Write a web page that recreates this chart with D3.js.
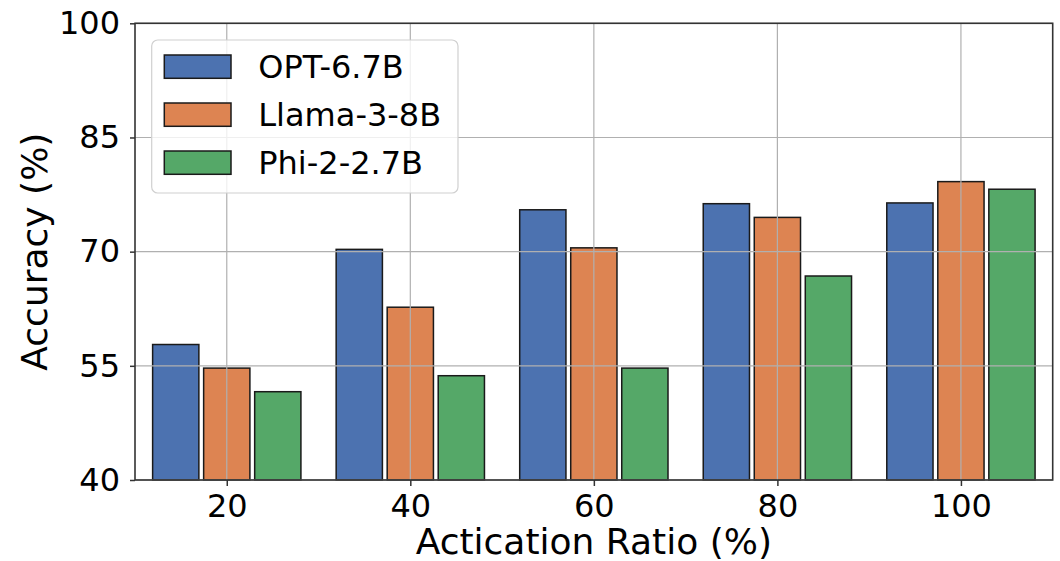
<!DOCTYPE html>
<html>
<head>
<meta charset="utf-8">
<script src="https://cdn.jsdelivr.net/npm/d3@7"></script>
<style>
  body { margin: 0; background: #fff; }
  text { font-family: "DejaVu Sans", sans-serif; fill: #000; }
</style>
</head>
<body>
<div id="chart"></div>
<script>
var ratios = ["20", "40", "60", "80", "100"];
var seriesNames = ["OPT-6.7B", "Llama-3-8B", "Phi-2-2.7B"];
var optValues = [57.8, 70.3, 75.5, 76.3, 76.4];
var llamaValues = [54.7, 62.7, 70.5, 74.5, 79.2];
var phiValues = [51.6, 53.7, 54.7, 66.8, 78.2];
var yTicks = [40, 55, 70, 85, 100];
var colors = ["#4C72B0", "#DD8452", "#55A868"];

var allValues = [optValues, llamaValues, phiValues];

var width = 1060,
  height = 561;
var margin = { top: 23.3, right: 7.3, bottom: 81, left: 135 };
var innerW = width - margin.left - margin.right,
  innerH = height - margin.top - margin.bottom;

var svg = d3.select("#chart")
  .append("svg")
  .attr("width", width)
  .attr("height", height);

var g = svg.append("g")
  .attr("transform", "translate(" + margin.left + "," + margin.top + ")");

// categorical positions: index -0.5 .. 4.5
var x = d3.scaleLinear().domain([-0.5, ratios.length - 0.5]).range([0, innerW]);
var y = d3.scaleLinear().domain([40, 100]).range([innerH, 0]);

var step = 0.278, barW = 0.252;

// bars
allValues.forEach(function (vals, s) {
  g.selectAll(".bar" + s)
    .data(vals)
    .enter()
    .append("rect")
    .attr("x", function (d, i) { return x(i + (s - 1) * step - barW / 2) })
    .attr("width", x(barW) - x(0))
    .attr("y", function (d) { return y(d) })
    .attr("height", function (d) { return y(40) - y(d) })
    .attr("fill", colors[s])
    .attr("stroke", "#1a1a1a")
    .attr("stroke-width", 1.5)
})

// grid on top of bars
g.selectAll(".hgrid")
  .data(yTicks)
  .enter()
  .append("line")
  .attr("x1", 0)
  .attr("x2", innerW)
  .attr("y1", function (d) { return y(d) })
  .attr("y2", function (d) { return y(d) })
  .attr("stroke", "#b0b0b0")
  .attr("stroke-width", 1.2)

g.selectAll(".vgrid")
  .data(ratios)
  .enter()
  .append("line")
  .attr("x1", function (d, i) { return x(i) })
  .attr("x2", function (d, i) { return x(i) })
  .attr("y1", 0)
  .attr("y2", innerH)
  .attr("stroke", "#b0b0b0")
  .attr("stroke-width", 1.2)

// axes
var xAxis = d3.axisBottom(x)
  .tickValues(d3.range(ratios.length))
  .tickFormat(function (i) { return ratios[i] })
  .tickSizeInner(6)
  .tickSizeOuter(0)
  .tickPadding(8);

var yAxis = d3.axisLeft(y)
  .tickValues(yTicks)
  .tickSizeInner(5)
  .tickSizeOuter(0)
  .tickPadding(10);

var gx = g.append("g")
  .attr("transform", "translate(0," + innerH + ")")
  .call(xAxis);
var gy = g.append("g").call(yAxis);

[gx, gy].forEach(function (a) {
  a.select(".domain").remove();
  a.selectAll(".tick line").attr("stroke", "#333").attr("stroke-width", 1.5);
  a.selectAll(".tick text")
    .style("font-family", "DejaVu Sans, sans-serif")
    .style("font-size", "32px")
    .attr("fill", "#000");
})

// frame
g.append("rect")
  .attr("x", 0)
  .attr("y", 0)
  .attr("width", innerW)
  .attr("height", innerH)
  .attr("fill", "none")
  .attr("stroke", "#333")
  .attr("stroke-width", 1.6)

// axis labels
svg.append("text")
  .attr("x", margin.left + innerW / 2)
  .attr("y", 554)
  .attr("text-anchor", "middle")
  .style("font-size", "36px")
  .text("Actication Ratio (%)")

svg.append("text")
  .attr("transform", "translate(47," + (margin.top + innerH / 2) + ") rotate(-90)")
  .attr("text-anchor", "middle")
  .style("font-size", "36px")
  .text("Accuracy (%)")

// legend
var legend = svg.append("g")
  .attr("transform", "translate(151.7,40)");

legend.append("rect")
  .attr("width", 306.3)
  .attr("height", 153)
  .attr("rx", 6)
  .attr("fill", "#fff")
  .attr("fill-opacity", 0.8)
  .attr("stroke", "#d0d0d0")
  .attr("stroke-width", 1.2)

var items = legend.selectAll(".item")
  .data(seriesNames)
  .enter()
  .append("g")
  .attr("transform", function (d, i) { return "translate(0," + (15 + i * 48) + ")" })

items.append("rect")
  .attr("x", 12.6)
  .attr("y", 0)
  .attr("width", 66.7)
  .attr("height", 23.3)
  .attr("fill", function (d, i) { return colors[i] })
  .attr("stroke", "#1a1a1a")
  .attr("stroke-width", 1.5)

items.append("text")
  .attr("x", 106.6)
  .attr("y", 23.3)
  .style("font-size", "32px")
  .text(function (d) { return d })
</script>
</body>
</html>
